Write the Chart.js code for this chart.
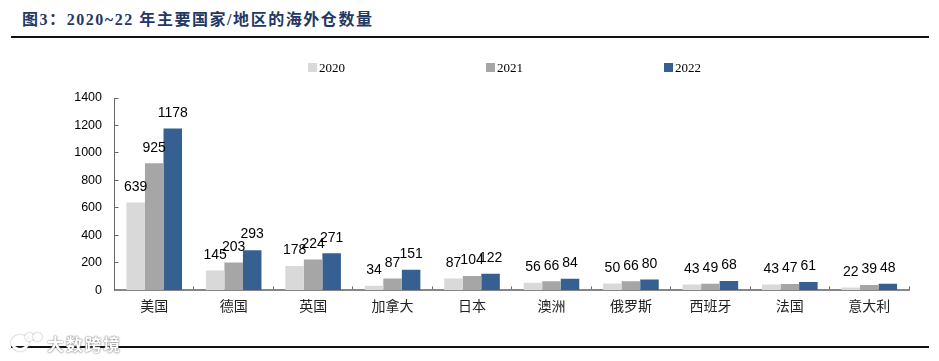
<!DOCTYPE html>
<html>
<head>
<meta charset="utf-8">
<script src="https://cdn.jsdelivr.net/npm/chart.js@4/dist/chart.umd.min.js"></script>
<style>
html, body { margin: 0; padding: 0; background: #fff; overflow: hidden; }
#page { position: relative; width: 939px; height: 361px; }
#chartBox { position: absolute; left: 0; top: 0; width: 939px; height: 361px; }
#title { position: absolute; left: 22px; top: 6px; font: bold 16px "Liberation Serif", "Noto Sans CJK SC"; color: #1f3864; letter-spacing: 1.55px; white-space: nowrap; }
.rule { position: absolute; left: 11px; width: 918px; height: 2px; background: #111; }
.swatch { position: absolute; top: 63px; width: 9px; height: 9px; }
.legendText { position: absolute; top: 60px; font: 13px "Liberation Serif"; color: #000; }
#mark { position: absolute; left: 47px; top: 331px; font: bold 17px "Noto Sans CJK SC"; letter-spacing: 1.7px; color: #fff; text-shadow: 0 0 2px #777, 0 0 1px #777; white-space: nowrap; }
.logo { position: absolute; box-sizing: border-box; border: 3px solid #fff; border-radius: 50%; box-shadow: 0 0 2px #888; }
</style>
</head>
<body>
<div id="page">
    <div id="title">图3：2020~22 年主要国家/地区的海外仓数量</div>
    <div class="rule" style="top:36px"></div>
    <div class="rule" style="top:346px"></div>
    <div id="chartBox"><canvas id="myChart"></canvas></div>
    <div id="legend"></div>
    <div class="logo" style="left:11px;top:335px;width:18px;height:16px"></div>
    <div class="logo" style="left:25px;top:333px;width:9px;height:8px;border-width:2px"></div>
    <div class="logo" style="left:33px;top:333px;width:9px;height:8px;border-width:2px"></div>
    <div id="mark">大数跨境</div>
</div>
<script>
const categories = ['美国', '德国', '英国', '加拿大', '日本', '澳洲', '俄罗斯', '西班牙', '法国', '意大利'];
const values2020 = [639, 145, 178, 34, 87, 56, 50, 43, 43, 22];
const values2021 = [925, 203, 224, 87, 104, 66, 66, 49, 47, 39];
const values2022 = [1178, 293, 271, 151, 122, 84, 80, 68, 61, 48];
const yTicks = [0, 200, 400, 600, 800, 1000, 1200, 1400];

// 막대 위 숫자
const barLabels = {
    id: 'barLabels',
    afterDatasetsDraw(chart) {
        let ctx = chart.ctx;
        ctx.save();
        ctx.font = '14px "Liberation Sans"';
        ctx.fillStyle = '#000';
        ctx.textAlign = 'center';
        ctx.textBaseline = 'middle';
        chart.data.datasets.forEach(function (ds, i) {
            chart.getDatasetMeta(i).data.forEach(function (bar, j) {
                ctx.fillText(ds.data[j], bar.x, bar.y - 15.5);
            });
        });
        ctx.restore();
    }
};

let myChart = new Chart(document.getElementById('myChart'), {
    type: 'bar',
    data: {
        labels: categories,
        datasets: [
            { label: '2020', data: values2020, backgroundColor: '#d9d9d9' },
            { label: '2021', data: values2021, backgroundColor: '#a6a6a6' },
            { label: '2022', data: values2022, backgroundColor: '#376092' }
        ]
    },
    options: {
        responsive: true,
        maintainAspectRatio: false,
        animation: false,
        layout: { padding: { left: 60, right: 30, top: 98, bottom: 35.8 } },
        datasets: { bar: { categoryPercentage: 0.7, barPercentage: 1 } },
        plugins: {
            tooltip: { enabled: false },
            legend: { display: false }
        },
        scales: {
            x: {
                grid: { drawOnChartArea: false, tickLength: -4, tickColor: '#666' },
                border: { color: '#868686', width: 2 },
                ticks: {
                    color: '#222',
                    padding: 11,
                    maxRotation: 0,
                    font: { family: '"Noto Sans CJK SC"', size: 14 }
                }
            },
            y: {
                min: 0,
                max: 1400,
                afterFit(axis) { axis.width = 54.5; },
                afterBuildTicks(axis) { axis.ticks = yTicks.map(function (v) { return { value: v }; }); },
                grid: { drawOnChartArea: false, tickLength: -4, tickColor: '#666' },
                border: { color: '#666', width: 1 },
                ticks: {
                    color: '#000',
                    padding: 16.5,
                    font: { family: '"Liberation Sans"', size: 12.5 },
                    callback: function (v) { return String(v); }
                }
            }
        }
    },
    plugins: [barLabels]
});

// 범례는 캔버스 밖에 직접 만든다
const legendX = [308, 486, 664];
myChart.data.datasets.forEach(function (ds, i) {
    let box = document.createElement('div');
    box.className = 'swatch';
    box.style.left = legendX[i] + 'px';
    box.style.background = ds.backgroundColor;
    let text = document.createElement('div');
    text.className = 'legendText';
    text.style.left = (legendX[i] + 11) + 'px';
    text.textContent = ds.label;
    document.getElementById('legend').appendChild(box);
    document.getElementById('legend').appendChild(text);
});
</script>
</body>
</html>
